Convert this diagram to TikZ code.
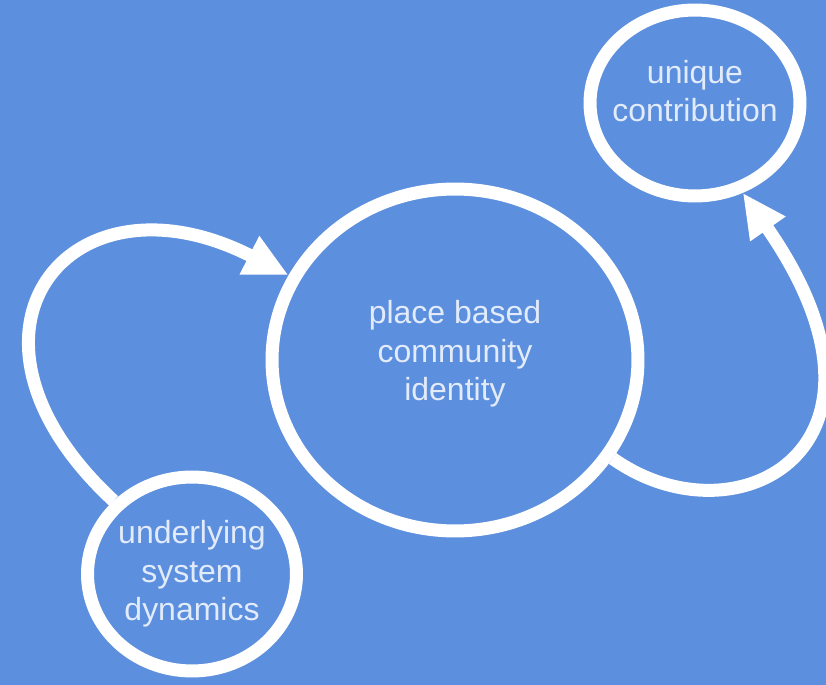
\documentclass[tikz,border=0pt]{standalone}
\usepackage{fontspec}
\setmainfont{Liberation Sans}
\usetikzlibrary{shapes.geometric,arrows.meta}
\definecolor{bgblue}{RGB}{92,143,222}
\definecolor{txtwhite}{RGB}{226,235,250}
\tikzset{
	ring/.style={ellipse, draw=white, line width=0.26cm, inner sep=0pt},
	words/.style={text=txtwhite, align=center, font=\fontsize{18.2}{21.8}\selectfont},
	flow/.style={draw=white, line width=0.26cm, -{Triangle[length=0.88cm,width=0.8cm]}}
}
\begin{document}
\begin{tikzpicture}[x=0.02cm,y=-0.02cm]
	\fill[bgblue] (0,0) rectangle (826,685);
	\useasboundingbox (0,0) rectangle (826,685);
	\node[ring, minimum width=7.32cm, minimum height=6.84cm,
		label={[words, yshift=0.12cm]center:place based\\community\\identity}] (place) at (455,360) {};
	\node[ring, minimum width=4.2cm, minimum height=3.72cm,
		label={[words, yshift=0.24cm]center:unique\\contribution}] (unique) at (695,103) {};
	\node[ring, minimum width=4.18cm, minimum height=3.88cm,
		label={[words]center:underlying\\system\\dynamics}] (under) at (192,574) {};
	\path[flow]
		(under.137) .. controls +(-181,-168) and +(-219,-112) .. (place.153);
	\path[flow]
		(place.-32) .. controls +(124,88) and +(177,254) .. (unique.-62);
	%\draw [red] (current bounding box.south west) rectangle (current bounding box.north east);
\end{tikzpicture}
\end{document}
